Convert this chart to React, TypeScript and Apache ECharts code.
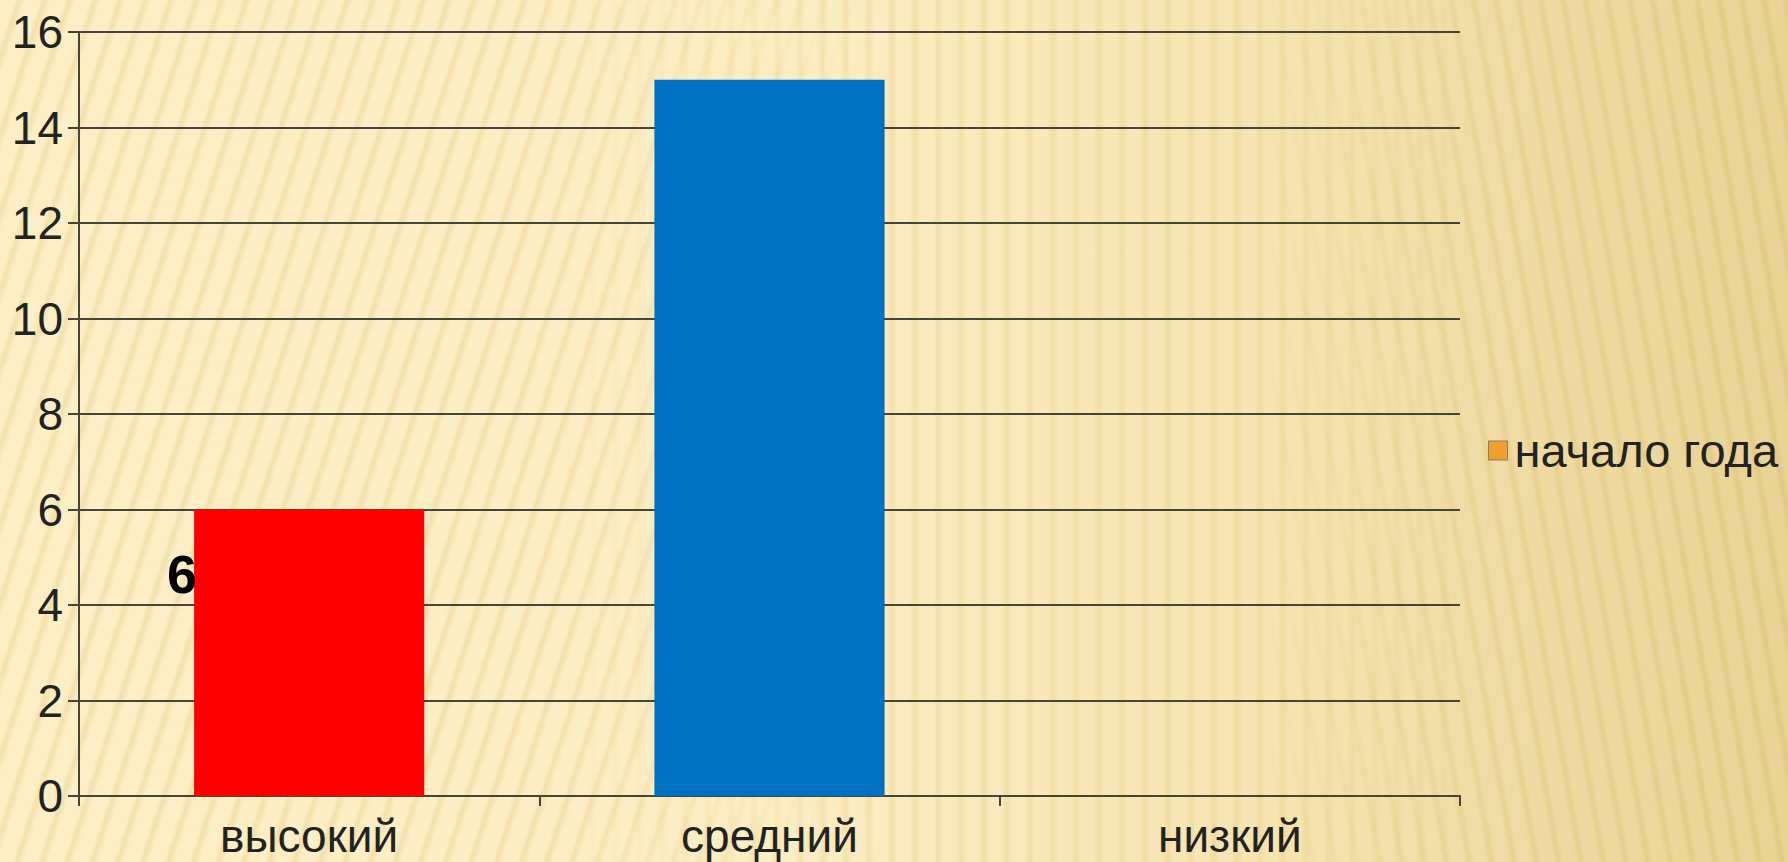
import React, { useEffect, useRef } from "react";
import * as echarts from "echarts";

const categories: string[] = ["высокий", "средний", "низкий"];
const seriesName = "начало года";
const seriesValues: number[] = [6, 15, 0];
const barColors: string[] = ["#FF0000", "#0070C0", "#F0A030"];
const labelledIndex = 0;
const yMin = 0;
const yMax = 16;
const yInterval = 2;

const FONT = "'Liberation Sans', Arial, sans-serif";

export default function App() {
  const ref = useRef<HTMLDivElement | null>(null);

  useEffect(() => {
    if (!ref.current) return;
    const chart = echarts.init(ref.current, null, { renderer: "svg" });
    const data = seriesValues.map((v, i) => {
      const item: any = { value: v, itemStyle: { color: barColors[i] } };
      if (i === labelledIndex) {
        item.label = {
          show: true,
          position: [3, 64],
          align: "right",
          verticalAlign: "middle",
          fontSize: 54,
          fontWeight: "bold",
          fontFamily: FONT,
          color: "#000",
        };
      }
      return item;
    });
    chart.setOption({
      animation: false,
      backgroundColor: "transparent",
      textStyle: { fontFamily: FONT },
      grid: { left: 79, right: 328, top: 32, bottom: 66, containLabel: false },
      legend: {
        show: true,
        orient: "vertical",
        left: 1488,
        top: 427,
        padding: 0,
        itemWidth: 19,
        itemHeight: 19,
        itemGap: 10,
        icon: "rect",
        data: [seriesName],
        itemStyle: { color: "#F0A030", borderColor: "#8a8060", borderWidth: 1 },
        textStyle: { fontSize: 47, fontFamily: FONT, color: "#222", padding: [0, 0, 0, 2] },
      },
      xAxis: {
        type: "category",
        data: categories,
        boundaryGap: true,
        axisLine: { show: true, lineStyle: { color: "#45453a", width: 2 } },
        axisTick: { show: true, alignWithLabel: false, length: 10, lineStyle: { color: "#45453a", width: 2 } },
        axisLabel: { fontSize: 46, fontFamily: FONT, color: "#222", margin: 17 },
        splitLine: { show: false },
      },
      yAxis: {
        type: "value",
        min: yMin,
        max: yMax,
        interval: yInterval,
        axisLine: { show: true, lineStyle: { color: "#45453a", width: 2 } },
        axisTick: { show: true, length: 11, lineStyle: { color: "#45453a", width: 2 } },
        axisLabel: { fontSize: 46, fontFamily: FONT, color: "#222", margin: 16 },
        splitLine: { show: true, lineStyle: { color: "#45453a", width: 2 } },
      },
      series: [
        {
          name: seriesName,
          type: "bar",
          barWidth: "50%",
          itemStyle: { color: "#F0A030" },
          label: { show: false },
          data,
        },
      ],
    });
    return () => chart.dispose();
  }, []);

  const base: React.CSSProperties = {
    position: "fixed",
    left: 0,
    top: 0,
    width: 1788,
    height: 862,
  };

  return (
    <div style={{ ...base, background: "linear-gradient(90deg, #FCEFC6 0%, #FBEDC3 45%, #F6E5B2 70%, #E9D395 100%)", overflow: "hidden" }}>
      <div
        style={{
          ...base,
          backgroundImage:
            "repeating-linear-gradient(108deg, rgba(210,170,70,0) 0px, rgba(210,170,70,0) 14px, rgba(210,170,70,0.2) 18px, rgba(210,170,70,0) 24px)",
          WebkitMaskImage: "linear-gradient(90deg, #000 0%, #000 30%, transparent 50%)",
          maskImage: "linear-gradient(90deg, #000 0%, #000 30%, transparent 50%)",
        } as any}
      />
      <div
        style={{
          ...base,
          backgroundImage:
            "repeating-linear-gradient(90deg, rgba(210,170,70,0) 0px, rgba(210,170,70,0) 13px, rgba(210,170,70,0.18) 18px, rgba(210,170,70,0) 23px)",
          WebkitMaskImage: "linear-gradient(90deg, transparent 30%, #000 50%, #000 70%, transparent 85%)",
          maskImage: "linear-gradient(90deg, transparent 30%, #000 50%, #000 70%, transparent 85%)",
        } as any}
      />
      <div
        style={{
          ...base,
          backgroundImage:
            "repeating-linear-gradient(80deg, rgba(200,160,60,0) 0px, rgba(200,160,60,0) 12px, rgba(200,160,60,0.2) 17px, rgba(200,160,60,0) 22px)",
          WebkitMaskImage: "linear-gradient(90deg, transparent 70%, #000 85%)",
          maskImage: "linear-gradient(90deg, transparent 70%, #000 85%)",
        } as any}
      />
      <div ref={ref} style={{ ...base }} />
    </div>
  );
}
